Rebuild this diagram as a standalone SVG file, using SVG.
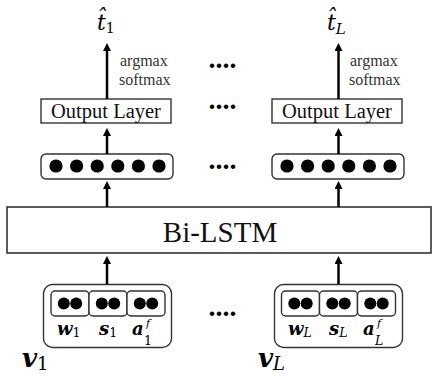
<svg xmlns="http://www.w3.org/2000/svg" width="433" height="376" viewBox="0 0 433 376">
<style>
.box{fill:#fff;stroke:#333;stroke-width:1.4}
.lbl{font-family:"Liberation Serif","Times New Roman",serif;fill:#111}
.small{font-family:"Liberation Serif","Times New Roman",serif;font-size:16px;fill:#333}
.dot{fill:#000}
.m{font-family:"DejaVu Serif",serif;font-style:italic;font-weight:bold;fill:#000}
.mi{font-family:"DejaVu Serif",serif;font-style:italic;fill:#000}
.sub{font-family:"DejaVu Serif",serif;font-style:normal;font-weight:normal;fill:#000}
.arr{stroke:#000;stroke-width:2.5;fill:none;marker-end:url(#ah)}
.ell{font-family:"Liberation Serif",serif;font-weight:bold;font-size:28px;fill:#000}
</style>
<defs>
<marker id="ah" markerUnits="userSpaceOnUse" markerWidth="8" markerHeight="8" refX="2" refY="4" orient="auto">
<path d="M0,0 L8,4 L0,8 z" fill="#000"/>
</marker>
</defs>

<g id="t1">
<text class="mi" x="97" y="30" font-size="22">t&#770;<tspan class="sub" font-size="14" dy="3">1</tspan></text>
</g>
<g id="tL">
<text class="mi" x="327" y="30" font-size="22">t&#770;<tspan font-size="15" dy="4">L</tspan></text>
</g>

<g id="softmax1">
<text class="small" x="120" y="66">argmax</text>
<text class="small" x="119" y="85">softmax</text>
</g>
<g id="softmaxL">
<text class="small" x="350" y="66">argmax</text>
<text class="small" x="349" y="85">softmax</text>
</g>

<g id="out1">
<rect class="box" x="41" y="99" width="130" height="24"/>
<text class="lbl" x="106" y="118" font-size="20.5" text-anchor="middle">Output Layer</text>
</g>
<g id="outL">
<rect class="box" x="272" y="99" width="130" height="24"/>
<text class="lbl" x="337" y="118" font-size="20.5" text-anchor="middle">Output Layer</text>
</g>

<g id="hid1">
<rect class="box" x="41" y="154" width="132" height="25" rx="5"/>
<circle class="dot" cx="56" cy="166" r="6.6"/>
<circle class="dot" cx="76.6" cy="166" r="6.6"/>
<circle class="dot" cx="97.2" cy="166" r="6.6"/>
<circle class="dot" cx="117.8" cy="166" r="6.6"/>
<circle class="dot" cx="138.4" cy="166" r="6.6"/>
<circle class="dot" cx="159" cy="166" r="6.6"/>
</g>
<g id="hidL">
<rect class="box" x="272" y="154" width="132" height="25" rx="5"/>
<circle class="dot" cx="287" cy="166" r="6.6"/>
<circle class="dot" cx="307.6" cy="166" r="6.6"/>
<circle class="dot" cx="328.2" cy="166" r="6.6"/>
<circle class="dot" cx="348.8" cy="166" r="6.6"/>
<circle class="dot" cx="369.4" cy="166" r="6.6"/>
<circle class="dot" cx="390" cy="166" r="6.6"/>
</g>

<g id="bilstm">
<rect class="box" x="7" y="207" width="424" height="46" style="stroke-width:1.6"/>
<text class="lbl" x="220" y="242" font-size="29" text-anchor="middle">Bi-LSTM</text>
</g>

<g id="in1">
<rect class="box" x="43.5" y="284.5" width="128" height="63" rx="9"/>
<rect class="box" x="51" y="291" width="38" height="25" rx="4"/>
<rect class="box" x="89" y="291" width="38" height="25" rx="4"/>
<rect class="box" x="127" y="291" width="38" height="25" rx="4"/>
<circle class="dot" cx="63.8" cy="303.5" r="6"/>
<circle class="dot" cx="76.2" cy="303.5" r="6"/>
<circle class="dot" cx="101.8" cy="303.5" r="6"/>
<circle class="dot" cx="114.2" cy="303.5" r="6"/>
<circle class="dot" cx="139.8" cy="303.5" r="6"/>
<circle class="dot" cx="152.2" cy="303.5" r="6"/>
<text class="m" x="57" y="335" font-size="18">w<tspan class="sub" font-size="12.5" dy="2">1</tspan></text>
<text class="m" x="99" y="335" font-size="18">s<tspan class="sub" font-size="12.5" dy="2">1</tspan></text>
<text class="m" x="132" y="335" font-size="18">a</text>
<text class="mi" x="146" y="327" font-size="11">f</text>
<text class="sub" x="144" y="345" font-size="12.5">1</text>
</g>
<g id="inL">
<rect class="box" x="274.5" y="284.5" width="128" height="63" rx="9"/>
<rect class="box" x="281.5" y="291" width="38" height="25" rx="4"/>
<rect class="box" x="319.5" y="291" width="38" height="25" rx="4"/>
<rect class="box" x="357.5" y="291" width="38" height="25" rx="4"/>
<circle class="dot" cx="294.3" cy="303.5" r="6"/>
<circle class="dot" cx="306.7" cy="303.5" r="6"/>
<circle class="dot" cx="332.3" cy="303.5" r="6"/>
<circle class="dot" cx="344.7" cy="303.5" r="6"/>
<circle class="dot" cx="370.3" cy="303.5" r="6"/>
<circle class="dot" cx="382.7" cy="303.5" r="6"/>
<text class="m" x="288" y="335" font-size="18">w<tspan class="mi" font-weight="normal" font-size="12.5" dy="2">L</tspan></text>
<text class="m" x="329" y="335" font-size="18">s<tspan class="mi" font-weight="normal" font-size="12.5" dy="2">L</tspan></text>
<text class="m" x="363" y="335" font-size="18">a</text>
<text class="mi" x="377" y="327" font-size="11">f</text>
<text class="mi" x="375" y="345" font-size="12.5">L</text>
</g>

<g id="v1">
<text class="m" x="22" y="367" font-size="26">v<tspan class="sub" font-size="18" dy="3">1</tspan></text>
</g>
<g id="vL">
<text class="m" x="258" y="367" font-size="26">v<tspan class="mi" font-weight="normal" font-size="18" dy="3">L</tspan></text>
</g>

<g id="ellipses">
<text class="ell" x="208.5" y="68">....</text>
<text class="ell" x="208.5" y="109">....</text>
<text class="ell" x="208.5" y="169">....</text>
<text class="ell" x="208.5" y="316">....</text>
</g>

<g id="connectors">
<line class="arr" x1="107" y1="99" x2="107" y2="49"/>
<line class="arr" x1="107" y1="154" x2="107" y2="134"/>
<line class="arr" x1="107" y1="207" x2="107" y2="187"/>
<line class="arr" x1="107" y1="284" x2="107" y2="262"/>
<line class="arr" x1="338.5" y1="99" x2="338.5" y2="49"/>
<line class="arr" x1="338.5" y1="154" x2="338.5" y2="134"/>
<line class="arr" x1="338.5" y1="207" x2="338.5" y2="187"/>
<line class="arr" x1="338.5" y1="284" x2="338.5" y2="262"/>
</g>
</svg>
